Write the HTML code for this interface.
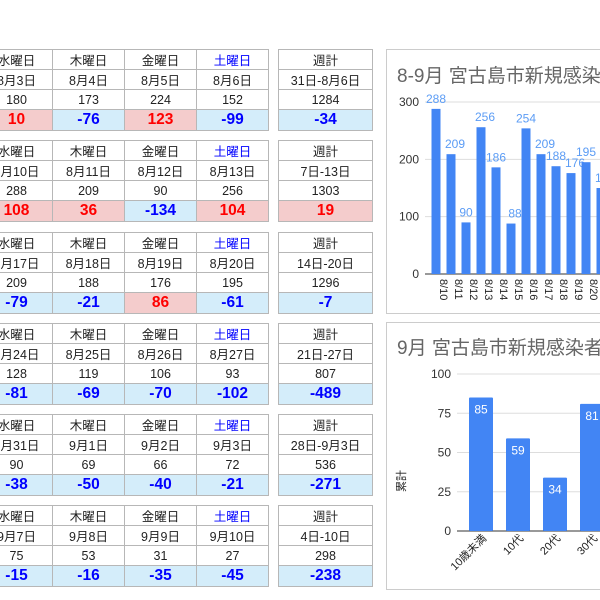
<!DOCTYPE html>
<html><head><meta charset="utf-8"><style>
body{margin:0;width:600px;height:600px;overflow:hidden;background:#fff;font-family:"Liberation Sans","Noto Sans CJK JP",sans-serif;position:relative}
.c{position:absolute;box-sizing:border-box;border:1px solid #b7b7b7;text-align:center;font-size:12.5px;color:#222;display:flex;align-items:center;justify-content:center;white-space:nowrap}
.d{font-weight:bold;font-size:15.5px}
.pos{background:#f4cccc;color:#ff0000}
.neg{background:#d4edfa;color:#0000ff}
.card{position:absolute;border:1px solid #ccc;background:#fff;overflow:hidden}
</style></head><body>
<div id="tables"></div>
<div class="card" style="left:386px;top:49px;width:230px;height:263px">
<svg id="ch1" width="230" height="263"></svg></div>
<div class="card" style="left:386px;top:322px;width:230px;height:266px">
<svg id="ch2" width="230" height="266"></svg></div>
<script>
const days=['水曜日','木曜日','金曜日','土曜日'];
const dates=[['8月3日','8月4日','8月5日','8月6日','31日-8月6日'],['8月10日','8月11日','8月12日','8月13日','7日-13日'],['8月17日','8月18日','8月19日','8月20日','14日-20日'],['8月24日','8月25日','8月26日','8月27日','21日-27日'],['8月31日','9月1日','9月2日','9月3日','28日-9月3日'],['9月7日','9月8日','9月9日','9月10日','4日-10日']];
const counts=[[180,173,224,152,1284],[288,209,90,256,1303],[209,188,176,195,1296],[128,119,106,93,807],[90,69,66,72,536],[75,53,31,27,298]];
const diffs=[[10,-76,123,-99,-34],[108,36,-134,104,19],[-79,-21,86,-61,-7],[-81,-69,-70,-102,-489],[-38,-50,-40,-21,-271],[-15,-16,-35,-45,-238]];
const T=document.getElementById('tables');
const tops=[49,140,232,323,414,505];
const cx=[[-20,73],[52,73],[124,73],[196,73],[278,95]];
const rh=[[0,21],[20,21],[40,21],[60,22]];
function cell(x,y,w,h,txt,cls,name,style){const e=document.createElement('div');e.className='c '+(cls||'');e.style.cssText=`left:${x}px;top:${y}px;width:${w}px;height:${h}px;`+(style||'');e.textContent=txt;


T.appendChild(e);}
tops.forEach((t,b)=>{for(let c=0;c<5;c++){const [x,w]=cx[c];
const hd=c<4?days[c]:'週計';cell(x,t+rh[0][0],w,rh[0][1],hd,'','header-cell',c==3?'color:#0000ff':'');
cell(x,t+rh[1][0],w,rh[1][1],dates[b][c],'','date-cell');
cell(x,t+rh[2][0],w,rh[2][1],String(counts[b][c]),'','count-cell');
const v=diffs[b][c];cell(x,t+rh[3][0],w,rh[3][1],String(v),'d '+(v>=0?'pos':'neg'),'diff-cell');}});
const NS='http://www.w3.org/2000/svg';
function el(p,tag,a,txt){const e=document.createElementNS(NS,tag);for(const k in a)e.setAttribute(k,a[k]);if(txt!=null)e.textContent=txt;p.appendChild(e);return e;}
// chart 1
const c1Labels=['8/10','8/11','8/12','8/13','8/14','8/15','8/16','8/17','8/18','8/19','8/20','8/21','8/22','8/23'];
const c1Values=[288,209,90,256,186,88,254,209,188,176,195,150,140,130];
const c1Ticks=[0,100,200,300];
const s1=document.getElementById('ch1');
let t1=el(s1,'text',{x:10,y:32,'font-size':19,fill:'#666'},'8-9月 宮古島市新規感染者数');

const y1=v=>224-v*172/300, x1=i=>49+i*15;
c1Ticks.forEach(v=>{const g=el(s1,'line',{x1:38,x2:230,y1:y1(v),y2:y1(v),stroke:v?'#ddd':'#333','stroke-width':1});

const l=el(s1,'text',{x:32,y:y1(v)+4,'font-size':12,'text-anchor':'end',fill:'#333'},v);
});
c1Values.forEach((v,i)=>{const r=el(s1,'rect',{x:x1(i)-4.5,y:y1(v),width:9,height:224-y1(v),fill:'#4285f4'});

const lb=el(s1,'text',{x:x1(i)+(i%2?4:0),y:y1(v)-6,'font-size':12,'text-anchor':'middle',fill:'#5b9cf5'},v);

const xl=el(s1,'text',{x:0,y:0,'font-size':11,fill:'#222',transform:`translate(${x1(i)+4},229) rotate(90)`},c1Labels[i]);
});
// chart 2
const c2Labels=['10歳未満','10代','20代','30代','40代'];
const c2Values=[85,59,34,81,60];
const c2Ticks=[0,25,50,75,100];
const s2=document.getElementById('ch2');
let t2=el(s2,'text',{x:10,y:31,'font-size':19,fill:'#666'},'9月 宮古島市新規感染者');

const y2=v=>208-v*157/100, x2=i=>94+i*37;
c2Ticks.forEach(v=>{const g=el(s2,'line',{x1:70,x2:230,y1:y2(v),y2:y2(v),stroke:v?'#ddd':'#333'});

const l=el(s2,'text',{x:64,y:y2(v)+4,'font-size':12,'text-anchor':'end',fill:'#333'},v);
});
const yt=el(s2,'text',{x:0,y:0,'font-size':11,fill:'#222','text-anchor':'middle',transform:'translate(18,158) rotate(-90)'},'累計');

c2Values.forEach((v,i)=>{const r=el(s2,'rect',{x:x2(i)-12,y:y2(v),width:24,height:208-y2(v),fill:'#4285f4',rx:1});

const lb=el(s2,'text',{x:x2(i),y:y2(v)+16,'font-size':12,'text-anchor':'middle',fill:'#fff'},v);

const xl=el(s2,'text',{x:0,y:0,'font-size':11,fill:'#222','text-anchor':'end',transform:`translate(${x2(i)+6},216) rotate(-45)`},c2Labels[i]);
});
</script>
</body></html>
